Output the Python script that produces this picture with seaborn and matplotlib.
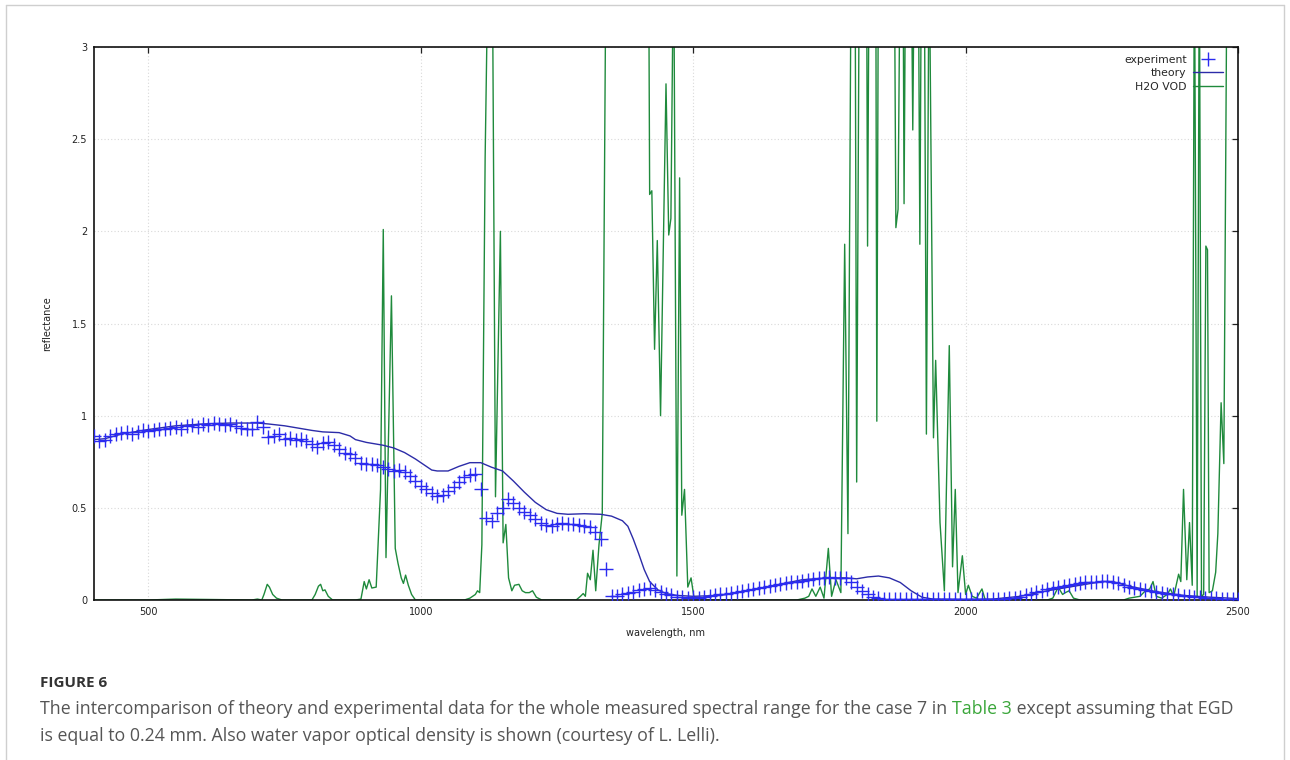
import matplotlib
matplotlib.use("Agg")
import matplotlib.pyplot as plt
from matplotlib.lines import Line2D
import pandas as pd
import seaborn as sns

# measured reflectance (crosses)
exp_wl = [
    400, 410, 420, 430, 440, 450, 460, 470, 480, 490,
    500, 510, 520, 530, 540, 550, 560, 570, 580, 590,
    600, 610, 620, 630, 640, 650, 660, 670, 680, 690,
    700, 710, 720, 730, 740, 750, 760, 770, 780, 790,
    800, 810, 820, 830, 840, 850, 860, 870, 880, 890,
    900, 910, 920, 930, 940, 950, 960, 970, 980, 990,
    1000, 1010, 1020, 1030, 1040, 1050, 1060, 1070, 1080, 1090,
    1100, 1110, 1120, 1130, 1140, 1150, 1160, 1170, 1180, 1190,
    1200, 1210, 1220, 1230, 1240, 1250, 1260, 1270, 1280, 1290,
    1300, 1310, 1320, 1330, 1340, 1350, 1360, 1370, 1380, 1390,
    1400, 1410, 1420, 1430, 1440, 1450, 1460, 1470, 1480, 1490,
    1500, 1510, 1520, 1530, 1540, 1550, 1560, 1570, 1580, 1590,
    1600, 1610, 1620, 1630, 1640, 1650, 1660, 1670, 1680, 1690,
    1700, 1710, 1720, 1730, 1740, 1750, 1760, 1770, 1780, 1790,
    1800, 1810, 1820, 1830, 1840, 1850, 1860, 1870, 1880, 1890,
    1900, 1910, 1920, 1930, 1940, 1950, 1960, 1970, 1980, 1990,
    2000, 2010, 2020, 2030, 2040, 2050, 2060, 2070, 2080, 2090,
    2100, 2110, 2120, 2130, 2140, 2150, 2160, 2170, 2180, 2190,
    2200, 2210, 2220, 2230, 2240, 2250, 2260, 2270, 2280, 2290,
    2300, 2310, 2320, 2330, 2340, 2350, 2360, 2370, 2380, 2390,
    2400, 2410, 2420, 2430, 2440, 2450, 2460, 2470, 2480, 2490,
    2500,
]
exp_refl = [
    0.89, 0.86, 0.87, 0.89, 0.90, 0.905, 0.91, 0.90, 0.91, 0.92,
    0.915, 0.92, 0.93, 0.925, 0.935, 0.94, 0.93, 0.945, 0.95, 0.94,
    0.955, 0.95, 0.96, 0.955, 0.95, 0.955, 0.945, 0.935, 0.93, 0.925,
    0.965, 0.94, 0.885, 0.89, 0.90, 0.875, 0.88, 0.87, 0.875, 0.865,
    0.845, 0.83, 0.85, 0.855, 0.84, 0.82, 0.80, 0.79, 0.77, 0.745,
    0.74, 0.74, 0.735, 0.72, 0.71, 0.70, 0.705, 0.695, 0.67, 0.645,
    0.62, 0.60, 0.58, 0.565, 0.57, 0.59, 0.615, 0.64, 0.665, 0.68,
    0.685, 0.60, 0.445, 0.43, 0.47, 0.50, 0.55, 0.525, 0.50, 0.48,
    0.46, 0.44, 0.42, 0.405, 0.40, 0.415, 0.42, 0.415, 0.41, 0.405,
    0.40, 0.395, 0.37, 0.33, 0.17, 0.02, 0.02, 0.03, 0.04, 0.045,
    0.055, 0.06, 0.065, 0.055, 0.045, 0.03, 0.025, 0.015, 0.015, 0.01,
    0.015, 0.012, 0.015, 0.02, 0.025, 0.03, 0.035, 0.04, 0.045, 0.05,
    0.055, 0.06, 0.065, 0.07, 0.075, 0.08, 0.085, 0.09, 0.095, 0.10,
    0.105, 0.11, 0.115, 0.12, 0.12, 0.125, 0.12, 0.12, 0.12, 0.095,
    0.07, 0.05, 0.03, 0.015, 0.01, 0.008, 0.006, 0.006, 0.005, 0.006,
    0.005, 0.006, 0.005, 0.006, 0.005, 0.005, 0.006, 0.005, 0.006, 0.005,
    0.006, 0.005, 0.006, 0.006, 0.005, 0.006, 0.007, 0.008, 0.009, 0.011,
    0.015, 0.025, 0.035, 0.045, 0.05, 0.06, 0.065, 0.07, 0.075, 0.08,
    0.085, 0.09, 0.095, 0.10, 0.10, 0.105, 0.105, 0.10, 0.09, 0.08,
    0.07, 0.065, 0.06, 0.055, 0.05, 0.045, 0.04, 0.035, 0.03, 0.025,
    0.02, 0.02, 0.015, 0.015, 0.01, 0.01, 0.01, 0.008, 0.008, 0.006,
    0.006,
]

# modelled reflectance
theory_wl = [
    400, 420, 450, 480, 500, 550, 600, 650, 700, 720, 750, 780, 800, 820,
    850, 870, 880, 900, 930, 950, 970, 990, 1000, 1010, 1020, 1030, 1050,
    1070, 1090, 1110, 1130, 1150, 1170, 1190, 1210, 1230, 1250, 1270, 1300,
    1330, 1350, 1370, 1380, 1390, 1400, 1410, 1420, 1435, 1450, 1470, 1500,
    1550, 1600, 1650, 1700, 1750, 1780, 1800, 1820, 1840, 1860, 1880, 1900,
    1920, 1940, 2000, 2050, 2100, 2150, 2200, 2250, 2270, 2300, 2350, 2400,
    2450, 2500,
]
theory_refl = [
    0.87, 0.875, 0.90, 0.915, 0.925, 0.945, 0.955, 0.96, 0.96, 0.955, 0.945,
    0.93, 0.92, 0.912, 0.908, 0.89, 0.87, 0.855, 0.84, 0.825, 0.80, 0.765,
    0.745, 0.725, 0.705, 0.70, 0.70, 0.725, 0.745, 0.745, 0.72, 0.70, 0.645,
    0.585, 0.53, 0.49, 0.47, 0.465, 0.468, 0.465, 0.455, 0.43, 0.40, 0.33,
    0.25, 0.165, 0.10, 0.055, 0.035, 0.025, 0.02, 0.025, 0.05, 0.08, 0.11,
    0.12, 0.12, 0.115, 0.125, 0.13, 0.12, 0.095, 0.05, 0.015, 0.005, 0.003,
    0.005, 0.02, 0.05, 0.075, 0.10, 0.10, 0.075, 0.045, 0.025, 0.015, 0.008,
]

# water vapour optical density
vod_wl = [
    400, 500, 550, 690, 700, 708, 712, 718, 722, 728, 735, 745, 800, 806,
    812, 816, 820, 824, 830, 838, 880, 890, 896, 900, 905, 910, 918, 926,
    931, 936, 946, 953, 958, 964, 968, 972, 977, 983, 990, 1080, 1090, 1100,
    1104, 1108, 1112, 1118, 1124, 1131, 1137, 1146, 1151, 1156, 1161, 1167,
    1172, 1180, 1186, 1192, 1199, 1205, 1212, 1222, 1285, 1293, 1298, 1302,
    1306, 1311, 1316, 1321, 1327, 1333, 1340, 1418, 1420, 1424, 1429, 1434,
    1440, 1450, 1455, 1459, 1464, 1470, 1475, 1479, 1484, 1490, 1496, 1502,
    1560, 1690, 1705, 1712, 1718, 1725, 1733, 1740, 1748, 1754, 1762, 1771,
    1778, 1784, 1790, 1797, 1800, 1805, 1818, 1820, 1823, 1835, 1837, 1840,
    1869, 1872, 1876, 1880, 1885, 1887, 1890, 1900, 1903, 1906, 1913, 1916,
    1919, 1924, 1928, 1933, 1941, 1945, 1953, 1961, 1970, 1976, 1981, 1986,
    1994, 2000, 2005, 2012, 2020, 2030, 2036, 2150, 2160, 2170, 2178, 2183,
    2190, 2198, 2210, 2290, 2300, 2320, 2330, 2338, 2344, 2350, 2360, 2370,
    2376, 2382, 2391, 2395, 2400, 2406, 2411, 2416, 2420, 2425, 2429, 2433,
    2437, 2441, 2444, 2447, 2453, 2459, 2463, 2469, 2474, 2480, 2500,
]
vod_od = [
    0.0, 0.0, 0.005, 0.0, 0.005, 0.0, 0.03, 0.085, 0.07, 0.03, 0.01, 0.0,
    0.0, 0.03, 0.075, 0.085, 0.05, 0.055, 0.02, 0.0, 0.0, 0.005, 0.10, 0.06,
    0.11, 0.065, 0.07, 0.6, 2.01, 0.23, 1.65, 0.28, 0.20, 0.12, 0.09, 0.135,
    0.08, 0.03, 0.0, 0.0, 0.01, 0.03, 0.05, 0.04, 0.3, 2.4, 3.6, 3.6, 0.56,
    2.0, 0.31, 0.41, 0.12, 0.05, 0.08, 0.085, 0.05, 0.04, 0.04, 0.05, 0.015,
    0.0, 0.0, 0.02, 0.035, 0.02, 0.145, 0.11, 0.27, 0.05, 0.3, 0.47, 3.6,
    3.6, 2.2, 2.22, 1.36, 1.95, 1.0, 2.8, 1.98, 2.07, 3.6, 0.13, 2.29, 0.46,
    0.6, 0.07, 0.12, 0.0, 0.0, 0.0, 0.01, 0.02, 0.06, 0.02, 0.07, 0.01, 0.28,
    0.02, 0.11, 0.04, 1.93, 0.36, 3.6, 3.6, 0.64, 3.6, 3.6, 1.92, 3.6, 3.6,
    0.97, 3.6, 3.6, 2.02, 2.12, 3.6, 3.6, 2.15, 3.6, 3.6, 2.55, 3.6, 3.6,
    1.93, 3.6, 3.6, 0.9, 3.6, 0.88, 1.3, 0.42, 0.05, 1.38, 0.18, 0.6, 0.04,
    0.24, 0.03, 0.08, 0.02, 0.01, 0.06, 0.0, 0.0, 0.01, 0.07, 0.03, 0.04,
    0.05, 0.01, 0.0, 0.0, 0.01, 0.02, 0.05, 0.06, 0.10, 0.02, 0.01, 0.03,
    0.06, 0.02, 0.14, 0.10, 0.6, 0.11, 0.42, 0.08, 3.6, 0.02, 3.6, 0.02,
    0.03, 1.92, 1.90, 0.04, 0.05, 0.15, 0.36, 1.07, 0.74, 3.6, 3.6,
]

x_ticks = [500, 1000, 1500, 2000, 2500]
y_ticks = [0, 0.5, 1, 1.5, 2, 2.5, 3]
y_tick_labels = ["0", "0.5", "1", "1.5", "2", "2.5", "3"]

exp_df = pd.DataFrame({"wavelength": exp_wl, "reflectance": exp_refl})
theory_df = pd.DataFrame({"wavelength": theory_wl, "reflectance": theory_refl})
vod_df = pd.DataFrame({"wavelength": vod_wl, "od": vod_od})

sns.set_style("white")
plt.rcParams["font.family"] = ["DejaVu Sans"]

W, H = 1290, 760
fig = plt.figure(figsize=(W / 100, H / 100), dpi=100)
ax_w, ax_h = 1238 - 94, 600 - 47
ax = fig.add_axes([94 / W, 1 - 600 / H, ax_w / W, ax_h / H])

c_exp = "#2b2bf0"
c_theory = "#2c2ca8"
c_vod = "#1f8a3c"

sns.lineplot(data=vod_df, x="wavelength", y="od", ax=ax, color=c_vod,
             linewidth=1.0, sort=False, estimator=None, label="H2O VOD",
             zorder=2)
sns.lineplot(data=theory_df, x="wavelength", y="reflectance", ax=ax,
             color=c_theory, linewidth=1.0, sort=False, estimator=None,
             label="theory", zorder=3)
sns.scatterplot(data=exp_df, x="wavelength", y="reflectance", ax=ax,
                marker="+", s=95, linewidth=1.0, color=c_exp,
                label="experiment", zorder=4)

ax.set_xlim(400, 2500)
ax.set_ylim(0, 3)
ax.set_xticks(x_ticks)
ax.set_xticklabels([str(t) for t in x_ticks])
ax.set_yticks(y_ticks)
ax.set_yticklabels(y_tick_labels)
ax.grid(True, color="#d9d9d9", linestyle=(0, (1, 2)), linewidth=0.8)
ax.set_axisbelow(True)
ax.tick_params(direction="in", length=4, width=0.9, top=True, right=True,
               labelsize=7, colors="#222222", pad=5)
for sp in ax.spines.values():
    sp.set_color("#111111")
    sp.set_linewidth(1.2)
ax.set_xlabel("wavelength, nm", fontsize=7, color="#222222", labelpad=8)
ax.set_ylabel("reflectance", fontsize=7, color="#222222", labelpad=14)

handles = [
    Line2D([], [], color=c_exp, marker="+", linestyle="", markersize=10,
           markeredgewidth=1.0),
    Line2D([], [], color=c_theory, linewidth=1.0),
    Line2D([], [], color=c_vod, linewidth=1.0),
]
ax.legend(handles, ["experiment", "theory", "H2O VOD"], loc="upper right",
          bbox_to_anchor=(1 - 8 / ax_w, 1 - 1 / ax_h),
          frameon=False, markerfirst=False, fontsize=7.8, handlelength=2.8,
          handletextpad=0.55, labelspacing=0.3, borderaxespad=0.35,
          borderpad=0.3)

# page frame around the figure panel
frame_kw = dict(transform=fig.transFigure, color="#cfcfcf", linewidth=1.0)
fig.add_artist(Line2D([6 / W, 6 / W], [0, 1 - 5 / H], **frame_kw))
fig.add_artist(Line2D([6 / W, 1284 / W], [1 - 5 / H, 1 - 5 / H], **frame_kw))
fig.add_artist(Line2D([1284 / W, 1284 / W], [0, 1 - 5 / H], **frame_kw))

# caption
cap_font = ["Open Sans", "DejaVu Sans"]
fig.text(40 / W, 1 - 683 / H, "FIGURE 6", fontsize=11, fontweight="bold",
         color="#333333", family=cap_font, va="center", ha="left")
cap_color = "#555555"
fs = 12.8
t1 = fig.text(40 / W, 1 - 709 / H,
              "The intercomparison of theory and experimental data for the "
              "whole measured spectral range for the case 7 in ",
              fontsize=fs, color=cap_color, family=cap_font, va="center",
              ha="left")
fig.canvas.draw()
r = fig.canvas.get_renderer()
bb = t1.get_window_extent(r)
t2 = fig.text(bb.x1 / W, 1 - 709 / H, "Table 3", fontsize=fs,
              color="#3aa63a", family=cap_font, va="center", ha="left")
bb2 = t2.get_window_extent(r)
fig.text(bb2.x1 / W, 1 - 709 / H, " except assuming that EGD", fontsize=fs,
         color=cap_color, family=cap_font, va="center", ha="left")
fig.text(40 / W, 1 - 736 / H,
         "is equal to 0.24 mm. Also water vapor optical density is shown "
         "(courtesy of L. Lelli).",
         fontsize=fs, color=cap_color, family=cap_font, va="center",
         ha="left")

fig.savefig("out.png", dpi=100)
